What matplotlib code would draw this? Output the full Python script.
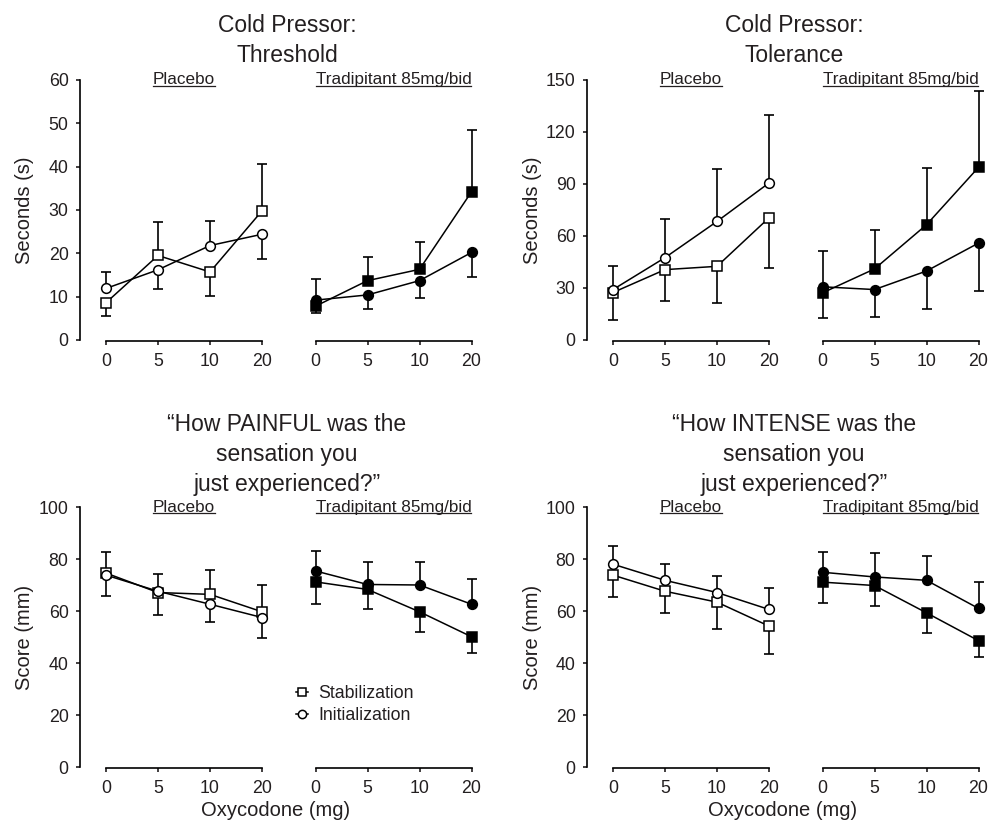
import numpy as np
import matplotlib
matplotlib.use('Agg')
import matplotlib.pyplot as plt
from matplotlib.lines import Line2D
from matplotlib.transforms import blended_transform_factory

plt.rcParams['font.family'] = ['Liberation Sans', 'DejaVu Sans']

# ---------------- data ----------------
doses = ['0', '5', '10', '20']
groups = ['Placebo', 'Tradipitant 85mg/bid']
series_names = ['Stabilization', 'Initialization']

# Cold pressor threshold (s)
thr_pla_stab = [8.6, 19.5, 15.7, 29.8]
thr_pla_stab_sem = [3.1, 7.8, 5.5, 10.9]
thr_pla_init = [11.9, 16.2, 21.8, 24.4]
thr_pla_init_sem = [3.7, 4.4, 5.7, 5.7]
thr_tra_stab = [7.8, 13.7, 16.3, 34.2]
thr_tra_stab_sem = [1.5, 5.4, 6.3, 14.3]
thr_tra_init = [9.2, 10.4, 13.7, 20.2]
thr_tra_init_sem = [4.8, 3.2, 4.1, 5.7]

# Cold pressor tolerance (s)
tol_pla_stab = [27.4, 40.6, 42.5, 70.5]
tol_pla_stab_sem = [15.9, 18.0, 20.9, 28.7]
tol_pla_init = [29.1, 47.5, 68.4, 90.6]
tol_pla_init_sem = [13.4, 22.4, 30.1, 39.1]
tol_tra_stab = [27.2, 41.0, 66.5, 99.6]
tol_tra_stab_sem = [14.4, 22.6, 32.7, 44.1]
tol_tra_init = [30.7, 29.1, 39.8, 55.9]
tol_tra_init_sem = [20.6, 16.1, 22.2, 27.9]

# How PAINFUL (mm)
pain_pla_stab = [74.6, 67.1, 66.4, 59.7]
pain_pla_stab_sem = [8.1, 8.6, 9.3, 10.2]
pain_pla_init = [73.8, 67.6, 62.6, 57.5]
pain_pla_init_sem = [8.0, 6.8, 7.0, 7.8]
pain_tra_stab = [71.2, 68.3, 59.7, 50.1]
pain_tra_stab_sem = [8.4, 7.6, 7.7, 6.4]
pain_tra_init = [75.4, 70.2, 70.0, 62.6]
pain_tra_init_sem = [7.7, 8.5, 8.7, 9.7]

# How INTENSE (mm)
int_pla_stab = [73.8, 67.6, 63.4, 54.2]
int_pla_stab_sem = [8.6, 8.4, 10.5, 10.7]
int_pla_init = [78.0, 71.8, 67.1, 60.6]
int_pla_init_sem = [7.0, 6.2, 6.3, 8.3]
int_tra_stab = [71.1, 69.8, 59.3, 48.6]
int_tra_stab_sem = [8.2, 7.8, 7.7, 6.2]
int_tra_init = [74.9, 73.1, 71.8, 61.0]
int_tra_init_sem = [7.7, 9.1, 9.4, 10.2]

titles = ['Cold Pressor:\nThreshold', 'Cold Pressor:\nTolerance',
          '\u201cHow PAINFUL was the\nsensation you\njust experienced?\u201d',
          '\u201cHow INTENSE was the\nsensation you\njust experienced?\u201d']
ylabels = ['Seconds (s)', 'Seconds (s)', 'Score (mm)', 'Score (mm)']
xlabel = 'Oxycodone (mg)'
yticks_list = [[0, 10, 20, 30, 40, 50, 60], [0, 30, 60, 90, 120, 150],
               [0, 20, 40, 60, 80, 100], [0, 20, 40, 60, 80, 100]]

panels = [
    [(thr_pla_stab, thr_pla_stab_sem, thr_pla_init, thr_pla_init_sem),
     (thr_tra_stab, thr_tra_stab_sem, thr_tra_init, thr_tra_init_sem)],
    [(tol_pla_stab, tol_pla_stab_sem, tol_pla_init, tol_pla_init_sem),
     (tol_tra_stab, tol_tra_stab_sem, tol_tra_init, tol_tra_init_sem)],
    [(pain_pla_stab, pain_pla_stab_sem, pain_pla_init, pain_pla_init_sem),
     (pain_tra_stab, pain_tra_stab_sem, pain_tra_init, pain_tra_init_sem)],
    [(int_pla_stab, int_pla_stab_sem, int_pla_init, int_pla_init_sem),
     (int_tra_stab, int_tra_stab_sem, int_tra_init, int_tra_init_sem)],
]

# ---------------- layout ----------------
W, H = 997, 822
TXT = '#231F20'
fig = plt.figure(figsize=(W / 100, H / 100), dpi=100)

yaxis_x = [80, 587, 80, 587]
top_px = [80, 80, 507, 507]
title_x = [287, 794, 287, 794]
title_top = [14, 14, 413, 413]
ylab_x = [24, 532, 24, 532]
UNIT = 52.0
SUBW = 3.8 * UNIT
GAP = 209.5
AXH = 260.0

def add_ax(left, top, w, h):
    return fig.add_axes([left / W, 1 - (top + h) / H, w / W, h / H])

x = np.arange(len(doses))
group_labels = []
legend_handles = None

for p in range(4):
    yt = yticks_list[p]
    for g in range(2):
        left = yaxis_x[p] + g * GAP
        ax = add_ax(left, top_px[p], SUBW, AXH)
        ax.set_xlim(-0.5, 3.3)
        ax.set_ylim(yt[0], yt[-1])
        ax.patch.set_visible(False)
        for s in ['top', 'right']:
            ax.spines[s].set_visible(False)
        ax.spines['bottom'].set_bounds(0, 3)
        ax.spines['bottom'].set_position(('outward', 1))
        ax.spines['bottom'].set_linewidth(1.2)
        ax.spines['left'].set_linewidth(1.2)
        ax.set_xticks(x)
        ax.set_xticklabels(doses)
        ax.tick_params(axis='both', direction='out', length=3.2, width=1.2,
                       labelsize=12.8, colors=TXT, pad=5)
        if g == 0:
            ax.set_yticks(yt)
        else:
            ax.spines['left'].set_visible(False)
            ax.set_yticks([])

        stab, stab_sem, init, init_sem = [np.array(v, float) for v in panels[p][g]]
        stab_hi = stab >= init
        s_err = [np.where(stab_hi, 0, stab_sem), np.where(stab_hi, stab_sem, 0)]
        i_err = [np.where(stab_hi, init_sem, 0), np.where(stab_hi, 0, init_sem)]
        ax.errorbar(x, stab, yerr=s_err, fmt='none', ecolor='black',
                    elinewidth=1.2, capsize=3.6, capthick=1.2, zorder=2, clip_on=False)
        ax.errorbar(x, init, yerr=i_err, fmt='none', ecolor='black',
                    elinewidth=1.2, capsize=3.6, capthick=1.2, zorder=2, clip_on=False)
        fc = 'white' if g == 0 else 'black'
        h1, = ax.plot(x, stab, color='black', lw=1.1, marker='s', ms=6.8,
                      mfc=fc, mec='black', mew=1.1, zorder=3, clip_on=False,
                      label=series_names[0])
        h2, = ax.plot(x, init, color='black', lw=1.1, marker='o', ms=7.0,
                      mfc=fc, mec='black', mew=1.1, zorder=3, clip_on=False,
                      label=series_names[1])
        if p == 2 and g == 0:
            legend_handles = [h1, h2]
        tr = blended_transform_factory(ax.transData, ax.transAxes)
        t = ax.text(1.5, 1.0, groups[g], transform=tr, ha='center', va='center',
                    fontsize=12.3, color=TXT)
        group_labels.append(t)

    fig.text(title_x[p] / W, 1 - title_top[p] / H, titles[p], ha='center', va='top',
             fontsize=16.5, color=TXT, linespacing=1.38)
    fig.text(ylab_x[p] / W, 1 - (top_px[p] + AXH / 2) / H, ylabels[p], rotation=90,
             ha='center', va='center', fontsize=14.5, color=TXT)
    if p >= 2:
        fig.text((yaxis_x[p] + 196) / W, 1 - 810 / H, xlabel, ha='center',
                 va='center', fontsize=14.5, color=TXT)

leg = fig.legend(handles=legend_handles, loc='upper left',
                 bbox_to_anchor=(296 / W, 1 - 685 / H), frameon=False,
                 fontsize=12.8, handlelength=0.65, handletextpad=0.6,
                 labelspacing=0.3, borderpad=0, borderaxespad=0,
                 markerscale=0.85)
for txt in leg.get_texts():
    txt.set_color(TXT)

# underline the group labels
fig.canvas.draw()
renderer = fig.canvas.get_renderer()
for t in group_labels:
    bb = t.get_window_extent(renderer)
    yline = bb.y0 + 1.5
    fig.add_artist(Line2D([bb.x0 / W, bb.x1 / W], [yline / H, yline / H],
                          transform=fig.transFigure, color=TXT, lw=0.9))

fig.savefig('out.png', dpi=100)
